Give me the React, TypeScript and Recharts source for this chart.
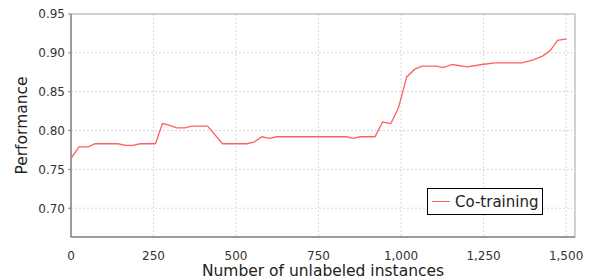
import { LineChart, Line, XAxis, YAxis, CartesianGrid, ReferenceArea, Label } from 'recharts';

// vertices
const instances = [
  0, 24, 52, 73, 143, 164, 188, 209, 256, 277, 297, 320, 345, 366, 414, 459,
  532, 554, 578, 601, 623, 835, 855, 876, 921, 944, 969, 992, 1017, 1042, 1063,
  1107, 1128, 1154, 1201, 1245, 1285, 1366, 1401, 1431, 1452, 1474, 1502,
];
const performance = [
  0.764, 0.779, 0.779, 0.783, 0.783, 0.781, 0.781, 0.783, 0.783, 0.809, 0.807, 0.8035, 0.8035, 0.8056, 0.8056, 0.783,
  0.783, 0.785, 0.792, 0.79, 0.792, 0.792, 0.79, 0.792, 0.792, 0.811, 0.809, 0.829, 0.869, 0.879, 0.883,
  0.883, 0.881, 0.885, 0.882, 0.885, 0.887, 0.887, 0.891, 0.8965, 0.903, 0.916, 0.918,
];
const xTicks = [0, 250, 500, 750, 1000, 1250, 1500];
const yTicks = [0.7, 0.75, 0.8, 0.85, 0.9, 0.95];

const X_MAX = 1527;
const Y_MIN = 0.663;
const Y_MAX = 0.95;

const data = instances.map((x, i) => ({ x, y: performance[i] }));

const font = 'DejaVu Sans, sans-serif';

// legend drawn as an overlay so it doesn't eat into the plot area
const LegendBox = () => (
  <div
    style={{
      position: 'absolute',
      left: 427,
      top: 188,
      border: '1px solid #000',
      background: '#fff',
      display: 'flex',
      alignItems: 'center',
      height: 25,
      padding: '0 4px 0 4px',
      fontFamily: font,
      fontSize: 15,
      color: '#222',
    }}
  >
    <span style={{ display: 'inline-block', width: 18, height: 0, borderTop: '1.5px solid #ff6060', marginRight: 5 }} />
    Co-training
  </div>
);

export default function App() {
  return (
    <div style={{ position: 'absolute', left: 0, top: 0, background: '#fff' }}>
      <LineChart width={591} height={279} data={data} margin={{ top: 14, right: 16, left: 0, bottom: 0 }}>
        <CartesianGrid strokeDasharray="2 2" stroke="#d6d6d6" horizontalValues={yTicks} verticalValues={xTicks} />
        <ReferenceArea x1={0} x2={X_MAX} y1={Y_MIN} y2={Y_MAX} fill="none" stroke="#c4c4c4" strokeWidth={1.5} />
        <XAxis
          type="number"
          dataKey="x"
          domain={[0, X_MAX]}
          ticks={xTicks}
          allowDataOverflow
          tickFormatter={(v) => v.toLocaleString('en-US')}
          tick={{ fontFamily: font, fontSize: 12, fill: '#333' }}
          tickLine={false}
          tickMargin={8}
          axisLine={{ stroke: '#888', strokeWidth: 1.5 }}
          height={42}
        >
          <Label value="Number of unlabeled instances" position="insideBottom" offset={3} style={{ fontFamily: font, fontSize: 15.5, fill: '#222' }} />
        </XAxis>
        <YAxis
          type="number"
          domain={[Y_MIN, Y_MAX]}
          ticks={yTicks}
          allowDataOverflow
          tickFormatter={(v) => v.toFixed(2)}
          tick={{ fontFamily: font, fontSize: 12, fill: '#333' }}
          tickSize={3}
          tickMargin={3}
          tickLine={{ stroke: '#888' }}
          axisLine={{ stroke: '#888', strokeWidth: 1.5 }}
          width={71}
        >
          <Label value="Performance" angle={-90} position="insideLeft" offset={0} dx={21} style={{ fontFamily: font, fontSize: 15.5, fill: '#222', textAnchor: 'middle' }} />
        </YAxis>
        <Line type="linear" dataKey="y" stroke="#ff6060" strokeWidth={1.3} dot={false} isAnimationActive={false} />
      </LineChart>
      <LegendBox />
    </div>
  );
}
